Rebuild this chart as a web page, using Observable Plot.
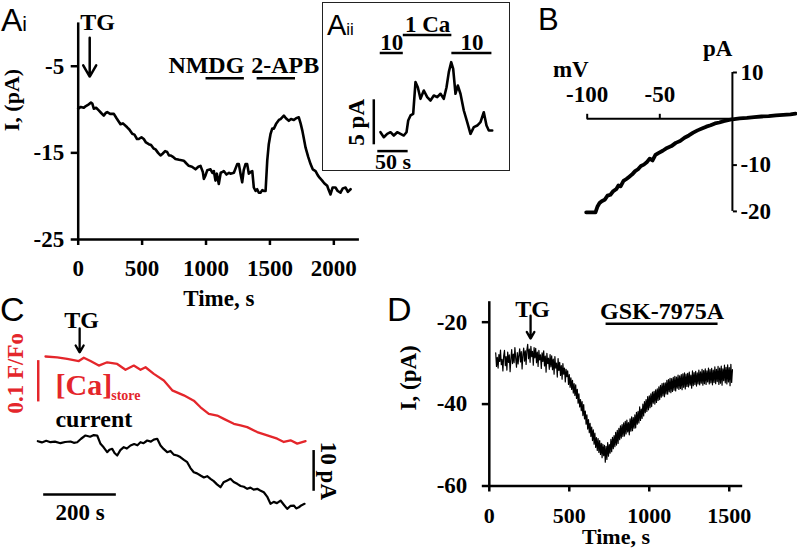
<!DOCTYPE html>
<html>
<head>
<meta charset="utf-8">
<script src="https://cdn.jsdelivr.net/npm/d3@7"></script>
<script src="https://cdn.jsdelivr.net/npm/@observablehq/plot@0.6"></script>
<style>
  body { margin: 0; background: #fff; }
  #fig { position: relative; width: 797px; height: 550px; overflow: hidden; background: #fff; }
  .letter { position: absolute; font-family: "Liberation Sans", Arial, sans-serif; font-size: 31px; line-height: 1; color: #000; white-space: nowrap; }
  #insetBox { position: absolute; left: 322px; top: 2px; width: 188px; height: 169px; box-sizing: border-box; border: 1.2px solid #222; }
</style>
</head>
<body>
<div id="fig">
  <div id="insetBox"></div>
  <div class="letter" style="left:1px;top:4px;font-size:32px">A<span style="font-size:21px">i</span></div>
  <div class="letter" style="left:327px;top:11px;font-size:29px">A<span style="font-size:17px">ii</span></div>
  <div class="letter" style="left:538px;top:4px">B</div>
  <div class="letter" style="left:0px;top:292px;font-size:34px">C</div>
  <div class="letter" style="left:387px;top:292px;font-size:34px">D</div>
</div>
<script>
// ---------------- Panel Ai ----------------
const aiTime = [0,20,44,60,83,100,110,122,140,161,180,200,215,227,250,279,300,331,350,383,400,423,440,460,474,495,513,530,552,570,590,605,625,644,660,680,696,710,722,745,761,790,826,845,865,890,918,940,957,975,983,996,1010,1035,1050,1061,1074,1085,1100,1115,1130,1139,1160,1180,1192,1218,1244,1257,1270,1283,1295,1309,1322,1335,1350,1362,1374,1388,1400,1413,1426,1440,1452,1466,1479,1491,1505,1518,1531,1550,1570,1583,1596,1609,1625,1648,1665,1687,1705,1726,1740,1753,1765,1779,1800,1818,1835,1857,1875,1890,1909,1925,1948,1960,1974,1990,2013,2030,2052,2070,2092,2110,2131];
const aiCurrent = [-9.9,-9.7,-9.8,-9.6,-9.4,-9.2,-9.3,-9.9,-9.8,-10.1,-10.4,-10.7,-10.4,-10.3,-10.5,-10.5,-11.0,-11.7,-11.6,-12.05,-12.3,-12.8,-12.9,-13.4,-13.4,-13.2,-13.4,-13.8,-14.0,-14.1,-14.5,-14.6,-15.0,-15.3,-15.1,-14.8,-14.9,-15.3,-15.3,-15.5,-15.7,-15.8,-15.9,-16.2,-16.5,-16.6,-16.9,-16.6,-16.5,-17.2,-18.0,-17.6,-17.0,-16.9,-17.3,-17.1,-18.2,-17.4,-18.6,-17.3,-17.2,-17.1,-17.5,-17.3,-17.4,-17.3,-16.3,-16.3,-17.4,-18.4,-17.0,-16.3,-16.3,-17.4,-17.2,-17.1,-19.0,-19.4,-19.2,-19.6,-19.6,-19.3,-19.4,-19.4,-15.9,-14.0,-12.8,-12.2,-12.2,-11.6,-11.2,-11.1,-10.9,-10.7,-11.0,-11.3,-11.1,-11.2,-11.0,-10.9,-11.6,-12.4,-13.3,-14.4,-15.5,-16.3,-16.9,-17.1,-17.6,-17.9,-18.2,-18.5,-18.8,-19.3,-19.8,-19.0,-19.0,-19.4,-19.6,-19.1,-19.0,-19.5,-19.2];
const aiXTicks = [0, 500, 1000, 1500, 2000];
const aiYTicks = [-5, -15, -25];
const aiEvents = [{label: "TG", time: 90}];
const aiBars = [{label: "NMDG", start: 1000, end: 1300}, {label: "2-APB", start: 1400, end: 1700}];

// ---------------- Panel Aii ----------------
const aiiTime = [4.4,9.9,15.5,20.9,26.4,32.0,37.4,42.8,47.3,50.1,53.9,58.3,62.1,65.9,70.3,75.8,81.4,86.8,92.3,97.9,103.3,108.7,113.2,117.0,120.9,124.2,128.0,131.8,136.2,141.7,147.3,152.7,158.2,163.8,169.2,174.6,179.1,182.9,188.5];
const aiiCurrent = [0,-0.56,-0.18,0,-0.37,0,-0.18,-0.37,0,1.30,1.86,2.04,5.56,5.0,3.71,4.63,3.89,3.52,4.08,3.89,4.27,3.71,5.0,6.67,7.78,7.04,4.27,5.19,4.27,2.41,1.11,-0.18,0.56,0.74,1.11,2.22,0.74,0.19,0.19];
const aiiBars = [{label: "10", start: 4, end: 42, row: 0}, {label: "1 Ca", start: 42, end: 122, row: 1}, {label: "10", start: 122, end: 188, row: 0}];
const aiiScale = {pA: 5, seconds: 50};

// ---------------- Panel B ----------------
const bVoltage = [-100.7,-94.3,-93,-91.5,-90,-88,-86,-84,-82,-80,-78.5,-77,-75,-73,-71,-69,-67,-65,-63,-61,-59,-57,-55,-53,-51,-48,-45,-42,-39,-36,-33,-30,-27,-24,-21,-18,-15,-12,-9,-6,-3,0,5,10,15,20,25,30,35,40,43.5];
const bCurrent = [-20.2,-20.2,-19.0,-18.2,-17.8,-17.5,-16.6,-16.4,-15.6,-15.2,-14.4,-14.6,-13.4,-13.0,-12.5,-12.0,-11.3,-10.9,-10.2,-9.9,-9.4,-8.6,-9.0,-7.8,-7.4,-6.9,-6.3,-5.9,-5.2,-4.8,-4.1,-3.6,-3.0,-2.5,-2.1,-1.7,-1.4,-1.0,-0.8,-0.5,-0.3,-0.1,0.1,0.2,0.35,0.5,0.6,0.75,0.85,0.95,1.1];
const bXTicks = [-100, -50];
const bYTicks = [10, -10, -20];

// ---------------- Panel C ----------------
const cRedTime = [22.0,54.2,81.7,113.7,127.4,145.9,168.7,191.8,219.4,242.2,265.1,283.5,297.3,320.2,347.7,370.8,402.7,430.2,448.7,471.5,494.6,512.8,540.3,558.8,577.2,604.7,632.3,659.8,678.0,696.4,714.8,737.7];
const cRedFF = [1.000,0.998,0.994,0.989,0.997,0.989,0.978,0.986,0.982,0.968,0.978,0.968,0.974,0.958,0.942,0.918,0.906,0.893,0.877,0.861,0.857,0.849,0.837,0.833,0.829,0.817,0.809,0.801,0.793,0.797,0.789,0.795];
const cBlackTime = [0.9,12,24,35.8,48,63.3,76,90.8,100,109.3,120,132.1,145,155,164.3,173.4,182,191.8,198,205.6,212,219.4,228,237.5,246,256.0,266,275,283.5,292,302.0,312,320,329.5,338.6,347,357.0,366,375,384.5,393,403,412.1,421,430.2,439,448.7,458,467,476.2,485,494,503.7,512,521,531.2,540,549.7,559,568,577.2,586,595,604.7,613,622.9,632,641.3,650,659,668.9,678,687.3,696,705.5,712,719.3,727,734.9];
const cBlackCurrent = [0,-0.3,0.1,-0.25,-0.1,-0.49,-0.2,-0.07,-0.4,-0.25,0.6,1.40,1.1,1.5,1.40,-0.64,-1.5,-2.70,-2.1,-1.87,-2.9,-3.51,-2.2,-1.47,-1.8,-1.06,-0.7,-1.0,-0.25,-0.5,0.17,-0.1,0.4,0.59,-1.06,-1.9,-2.70,-2.4,-3.3,-3.51,-3.9,-4.6,-5.16,-6.6,-7.62,-7.9,-8.43,-8.9,-8.6,-9.24,-9.8,-10.6,-11.30,-10.1,-9.7,-9.24,-10.0,-10.47,-11.0,-11.2,-11.70,-11.4,-11.9,-11.70,-12.1,-12.53,-13.6,-15.38,-14.9,-15.2,-14.57,-15.6,-16.61,-15.9,-15.80,-16.5,-16.22,-15.7,-15.38];
const cEvents = [{label: "TG", time: 116}];
const cScale = {seconds: 200, ff: 0.1, pA: 10};

// ---------------- Panel D ----------------
const dTime = [40,45,50,55,60,65,70,75,80,85,90,95,100,105,110,115,120,125,130,135,140,145,150,155,160,165,170,175,180,185,190,195,200,205,210,215,220,225,230,235,240,245,250,255,260,265,270,275,280,285,290,295,300,305,310,315,320,325,330,335,340,345,350,355,360,365,370,375,380,385,390,395,400,405,410,415,420,425,430,435,440,445,450,455,460,465,470,475,480,485,490,495,500,505,510,515,520,525,530,535,540,545,550,555,560,565,570,575,580,585,590,595,600,605,610,615,620,625,630,635,640,645,650,655,660,665,670,675,680,685,690,695,700,705,710,715,720,725,730,735,740,745,750,755,760,765,770,775,780,785,790,795,800,805,810,815,820,825,830,835,840,845,850,855,860,865,870,875,880,885,890,895,900,905,910,915,920,925,930,935,940,945,950,955,960,965,970,975,980,985,990,995,1000,1005,1010,1015,1020,1025,1030,1035,1040,1045,1050,1055,1060,1065,1070,1075,1080,1085,1090,1095,1100,1105,1110,1115,1120,1125,1130,1135,1140,1145,1150,1155,1160,1165,1170,1175,1180,1185,1190,1195,1200,1205,1210,1215,1220,1225,1230,1235,1240,1245,1250,1255,1260,1265,1270,1275,1280,1285,1290,1295,1300,1305,1310,1315,1320,1325,1330,1335,1340,1345,1350,1355,1360,1365,1370,1375,1380,1385,1390,1395,1400,1405,1410,1415,1420,1425,1430,1435,1440,1445,1450,1455,1460,1465,1470,1475,1480,1485,1490,1495,1500,1505,1510,1515,1520];
const dCurrent = [
  -27.5,-30.8,-28.6,-31.2,-27.9,-29.6,-26.8,-30.4,-29.1,-31.9,
  -28.2,-26.9,-30.6,-28.4,-31.7,-27.3,-29.8,-28.0,-32.1,-29.0,
  -26.7,-30.1,-27.8,-29.9,-26.2,-28.8,-31.0,-27.4,-30.2,-28.1,
  -26.5,-29.7,-27.2,-31.4,-28.0,-26.3,-29.5,-27.0,-30.3,-26.8,
  -25.4,-28.9,-26.6,-29.8,-25.9,-28.4,-27.1,-30.5,-26.2,-28.7,
  -26.4,-29.9,-27.3,-30.8,-26.9,-29.2,-28.0,-31.3,-27.5,-29.6,
  -27.0,-30.7,-28.3,-32.2,-27.6,-30.1,-28.8,-31.5,-27.9,-30.9,
  -28.2,-31.6,-29.0,-32.7,-28.4,-31.2,-30.0,-33.4,-28.9,-31.8,
  -29.8,-33.0,-30.6,-33.9,-30.1,-32.7,-31.2,-34.6,-31.5,-33.3,
  -31.9,-35.2,-32.8,-35.9,-33.6,-36.4,-34.2,-37.3,-35.0,-37.9,
  -35.3,-38.6,-36.4,-39.8,-37.5,-40.7,-38.9,-41.6,-39.4,-42.8,
  -40.1,-43.6,-41.7,-44.9,-42.6,-46.1,-43.8,-47.0,-44.7,-47.9,
  -45.6,-48.9,-46.3,-49.8,-47.1,-50.6,-48.2,-51.3,-48.4,-51.8,
  -48.9,-52.3,-49.6,-53.1,-49.8,-52.6,-50.1,-54.2,-50.3,-53.5,
  -49.4,-52.7,-49.9,-52.0,-48.6,-51.6,-48.1,-50.9,-47.7,-50.4,
  -46.9,-50.0,-46.4,-49.6,-45.9,-48.7,-45.3,-48.3,-45.0,-47.9,
  -44.6,-47.8,-44.2,-47.3,-43.9,-46.8,-44.5,-47.5,-43.6,-46.6,
  -43.1,-46.5,-43.3,-45.9,-42.6,-45.8,-42.0,-44.9,-41.8,-44.6,
  -40.7,-44.0,-41.2,-43.5,-40.0,-42.9,-39.4,-42.1,-38.9,-41.8,
  -38.2,-41.4,-38.0,-40.9,-37.5,-40.6,-37.1,-39.8,-36.9,-40.0,
  -36.5,-39.6,-36.3,-39.1,-35.8,-38.9,-35.4,-38.3,-35.0,-38.0,
  -34.9,-38.2,-34.8,-37.5,-34.2,-37.6,-34.0,-37.0,-33.7,-37.2,
  -33.8,-36.9,-33.5,-36.6,-33.2,-36.8,-33.4,-36.1,-32.9,-36.4,
  -33.1,-36.2,-32.8,-36.5,-32.6,-35.9,-32.4,-36.3,-32.7,-35.7,
  -32.5,-35.8,-32.2,-35.4,-32.9,-36.1,-31.9,-35.5,-32.3,-35.2,
  -32.0,-35.6,-32.4,-35.1,-31.7,-35.3,-32.1,-34.9,-31.5,-35.4,
  -31.8,-35.0,-31.4,-35.2,-31.9,-34.6,-31.2,-35.1,-31.6,-34.8,
  -31.3,-35.3,-31.7,-34.7,-30.9,-35.0,-31.5,-34.5,-30.8,-35.2,
  -31.2,-34.9,-30.7,-35.4,-31.4,-34.3,-30.5,-34.8,-31.0,-35.1,
  -30.4,-34.6,-31.1,-35.5,-30.3,-34.7,-31.6
];
const dXTicks = [0, 500, 1000, 1500];
const dYTicks = [-20, -40, -60];
const dEvents = [{label: "TG", time: 258}];
const dBars = [{label: "GSK-7975A", start: 730, end: 1430}];

// ---------------- drawing ----------------
const W = 797, H = 550;
const RED = "#e4262b";
const SERIF = '"Liberation Serif","Times New Roman",serif';
const STYLE = `position:absolute;left:0;top:0;background:transparent;overflow:visible;font-family:${SERIF};font-weight:bold;font-size:23px;`;
const FS = 23;
const fmt = d => String(d);
const zip = (xs, ys) => xs.map((x, i) => ({x, y: ys[i]}));
const fig = document.getElementById("fig");

// Ai
fig.appendChild(Plot.plot({
  width: W, height: H, style: STYLE,
  marginLeft: 77.7, marginRight: 438.1, marginTop: 22.4, marginBottom: 311,
  x: {domain: [0, 2200], label: null},
  y: {domain: [-25, 0], label: null},
  marks: [
    Plot.ruleX([0], {y1: -25, y2: 0, strokeWidth: 2.5}),
    Plot.ruleY([-25], {x1: 0, x2: 2200, strokeWidth: 2.5}),
    Plot.axisY(aiYTicks, {tickSize: 7, tickPadding: 7, strokeWidth: 2.5, tickFormat: fmt, label: null, fontSize: FS}),
    Plot.axisX(aiXTicks, {tickSize: 6, tickPadding: 14, strokeWidth: 2.5, tickFormat: fmt, label: null, fontSize: FS}),
    Plot.text(["Time, s"], {frameAnchor: "bottom", lineAnchor: "middle", dy: 59, fontSize: FS}),
    Plot.text(["I, (pA)"], {frameAnchor: "left", rotate: -90, dx: -66, fontSize: 22}),
    Plot.line(zip(aiTime, aiCurrent), {x: "x", y: "y", strokeWidth: 2.6, strokeLinejoin: "round"}),
    Plot.arrow(aiEvents, {x: "time", y1: -1.7, y2: -6.2, strokeWidth: 2.5, headLength: 11}),
    Plot.text(aiEvents, {x: "time", text: "label", frameAnchor: "top", lineAnchor: "middle", dx: 8, dy: -1, fontSize: 24}),
    Plot.ruleY(aiBars, {x1: "start", x2: "end", y: -6.4, strokeWidth: 2.5}),
    Plot.text([aiBars[0]], {x: "end", y: -6.4, text: "label", textAnchor: "end", dy: -13, fontSize: 24}),
    Plot.text([aiBars[1]], {x: "start", y: -6.4, text: "label", textAnchor: "start", dx: -6, dy: -13, fontSize: 24})
  ]
}));

// Aii
fig.appendChild(Plot.plot({
  width: W, height: H, style: STYLE,
  marginLeft: 377.3, marginRight: 298.3, marginTop: 32.7, marginBottom: 395.8,
  x: {domain: [0, 200], axis: null},
  y: {domain: [-2.5, 11], axis: null},
  marks: [
    Plot.line(zip(aiiTime, aiiCurrent), {x: "x", y: "y", strokeWidth: 2.6, strokeLinejoin: "round"}),
    Plot.ruleY(aiiBars, {x1: "start", x2: "end", y: d => 8.8 + 2 * d.row, strokeWidth: 2.5}),
    Plot.text(aiiBars, {x: d => (d.start + d.end) / 2, y: d => 8.8 + 2 * d.row, text: "label", dy: -10, fontSize: FS}),
    Plot.ruleX([-6.6], {y1: -1.4, y2: -1.4 + aiiScale.pA, strokeWidth: 2.5}),
    Plot.text([`${aiiScale.pA} pA`], {x: -6.6, y: -1.4 + aiiScale.pA / 2, rotate: -90, dx: -17, fontSize: FS}),
    Plot.ruleY([-2.1], {x1: 0, x2: aiiScale.seconds, strokeWidth: 2.5}),
    Plot.text([`${aiiScale.seconds} s`], {x: aiiScale.seconds / 2, y: -2.1, dy: 11, fontSize: 22})
  ]
}));

// B
const tickUp = {draw(context) { context.moveTo(0, 0); context.lineTo(0, -5); }};
fig.appendChild(Plot.plot({
  width: W, height: H, style: STYLE,
  marginLeft: 586.7, marginRight: 65.1, marginTop: 72, marginBottom: 339.1,
  x: {domain: [-100, 0], axis: null, label: null},
  y: {domain: [-20, 10], label: null},
  marks: [
    Plot.ruleY([0], {x1: -100, x2: 0, strokeWidth: 2}),
    Plot.ruleX([0], {y1: -20, y2: 10, strokeWidth: 2}),
    Plot.axisY(bYTicks, {anchor: "right", tickSize: 4, tickPadding: 4, strokeWidth: 2, tickFormat: fmt, label: null, fontSize: FS}),
    Plot.dot(bXTicks, {x: d => d, y: 0, symbol: tickUp, stroke: "black", fill: "none", strokeWidth: 2}),
    Plot.text(bXTicks, {x: d => d, y: 0, text: fmt, dy: -24, fontSize: FS}),
    Plot.text(["mV"], {frameAnchor: "top-left", textAnchor: "end", lineAnchor: "middle", dx: 1.5, dy: -2.5, fontSize: FS}),
    Plot.text(["pA"], {frameAnchor: "top-right", lineAnchor: "middle", dy: -24, fontSize: FS}),
    Plot.line(zip(bVoltage, bCurrent), {x: "x", y: "y", strokeWidth: 3.8, strokeLinejoin: "round"})
  ]
}));

// C (red: store Ca in F/Fo)
fig.appendChild(Plot.plot({
  width: W, height: H, style: STYLE,
  marginLeft: 37, marginRight: 487.5, marginTop: 335.35, marginBottom: 90.75,
  x: {domain: [0, 750], axis: null},
  y: {domain: [0.75, 1.05], axis: null},
  marks: [
    Plot.line(zip(cRedTime, cRedFF), {x: "x", y: "y", stroke: RED, strokeWidth: 2.3, strokeLinejoin: "round"}),
    Plot.ruleX([2], {y1: 0.99, y2: 0.99 - cScale.ff, stroke: RED, strokeWidth: 2.5}),
    Plot.text([`${cScale.ff} F/Fo`], {x: 2, y: 0.99 - cScale.ff / 2, rotate: -90, dx: -23, dy: -8, fill: RED, fontSize: FS}),
    Plot.text(["[Ca]"], {x: 49.5, y: 0.93, textAnchor: "start", fill: RED, fontSize: 30}),
    Plot.text(["store"], {x: 203, y: 0.905, textAnchor: "start", fill: RED, fontSize: 14}),
    Plot.arrow(cEvents, {x: "time", y1: 1.068, y2: 1.010, strokeWidth: 2.3, headLength: 10}),
    Plot.text(cEvents, {x: "time", y: 1.087, text: "label", dx: 2, fontSize: 24})
  ]
}));

// C (black: current in pA)
fig.appendChild(Plot.plot({
  width: W, height: H, style: STYLE,
  marginLeft: 37, marginRight: 487.5, marginTop: 424.4, marginBottom: 36,
  x: {domain: [0, 750], axis: null},
  y: {domain: [-18, 4], axis: null},
  marks: [
    Plot.line(zip(cBlackTime, cBlackCurrent), {x: "x", y: "y", strokeWidth: 2.2, strokeLinejoin: "round"}),
    Plot.text(["current"], {x: 155, y: 0, dy: -21.7, fontSize: 24}),
    Plot.ruleX([760], {y1: -2.3, y2: -2.3 - cScale.pA, strokeWidth: 2.5}),
    Plot.text([`${cScale.pA} pA`], {x: 760, y: -2.3 - cScale.pA / 2, rotate: 90, dx: 15, fontSize: FS}),
    Plot.ruleY([-13.1], {x1: 17, x2: 17 + cScale.seconds, strokeWidth: 2.5}),
    Plot.text([`${cScale.seconds} s`], {x: 17 + cScale.seconds / 2, y: -13.1, dy: 18.5, fontSize: FS})
  ]
}));

// D
fig.appendChild(Plot.plot({
  width: W, height: H, style: STYLE,
  marginLeft: 488.8, marginRight: 54.8, marginTop: 301.2, marginBottom: 64.5,
  x: {domain: [0, 1584], label: null},
  y: {domain: [-60, -15], label: null},
  marks: [
    Plot.ruleX([0], {y1: -60, y2: -15, strokeWidth: 2.5}),
    Plot.ruleY([-60], {x1: 0, x2: 1584, strokeWidth: 2.5}),
    Plot.axisY(dYTicks, {tickSize: 7, tickPadding: 15, strokeWidth: 2.5, tickFormat: fmt, label: null, fontSize: FS}),
    Plot.axisX(dXTicks, {tickSize: 6, tickPadding: 15, strokeWidth: 2.5, tickFormat: fmt, label: null, fontSize: 22}),
    Plot.text(["Time, s"], {frameAnchor: "bottom", lineAnchor: "middle", dy: 51, fontSize: 22}),
    Plot.text(["I, (pA)"], {frameAnchor: "left", rotate: -90, dx: -81, dy: 16.6, fontSize: FS}),
    Plot.line(zip(dTime, dCurrent), {x: "x", y: "y", strokeWidth: 1.2, strokeLinejoin: "round"}),
    Plot.arrow(dEvents, {x: "time", y1: -18.4, y2: -24.0, strokeWidth: 2.3, headLength: 9}),
    Plot.text(dEvents, {x: "time", y: -16.9, text: "label", dx: 2, fontSize: 24}),
    Plot.ruleY(dBars, {x1: "start", x2: "end", y: -20.4, strokeWidth: 2.5}),
    Plot.text(dBars, {x: d => (d.start + d.end) / 2, y: -20.4, text: "label", dy: -13, fontSize: 24})
  ]
}));
</script>
</body>
</html>
